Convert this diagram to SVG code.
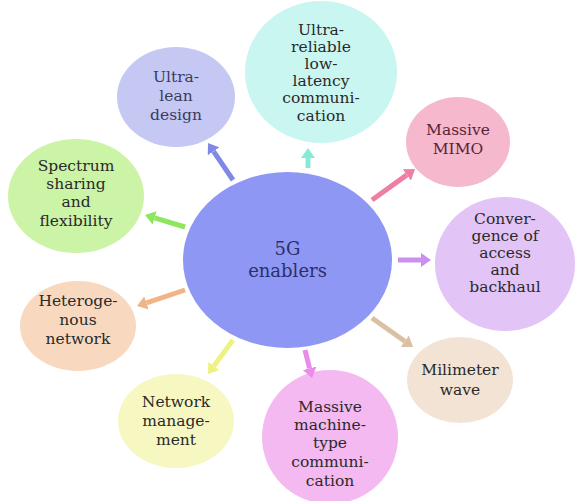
<svg xmlns="http://www.w3.org/2000/svg" width="577" height="501" viewBox="0 0 577 501">
  <style>
    text { font-family: "DejaVu Serif", "Liberation Serif", serif; font-size: 15.5px; text-anchor: middle; fill: #2a2a2a; }
    .hub text { font-size: 18px; fill: #2b2f6b; }
    .conn path { fill: none; stroke-width: 5; stroke-linecap: butt; }
  </style>
  <defs>
    <marker id="h-lean" markerUnits="userSpaceOnUse" viewBox="0 0 10 14" markerWidth="10" markerHeight="14" refX="0" refY="7" orient="auto"><path d="M0,0 L10,7 L0,14 z" fill="#8088e6"/></marker>
    <marker id="h-urllc" markerUnits="userSpaceOnUse" viewBox="0 0 10 14" markerWidth="10" markerHeight="14" refX="0" refY="7" orient="auto"><path d="M0,0 L10,7 L0,14 z" fill="#86ead8"/></marker>
    <marker id="h-mimo" markerUnits="userSpaceOnUse" viewBox="0 0 10 14" markerWidth="10" markerHeight="14" refX="0" refY="7" orient="auto"><path d="M0,0 L10,7 L0,14 z" fill="#ee7fa2"/></marker>
    <marker id="h-spec" markerUnits="userSpaceOnUse" viewBox="0 0 10 14" markerWidth="10" markerHeight="14" refX="0" refY="7" orient="auto"><path d="M0,0 L10,7 L0,14 z" fill="#8de65c"/></marker>
    <marker id="h-conv" markerUnits="userSpaceOnUse" viewBox="0 0 10 14" markerWidth="10" markerHeight="14" refX="0" refY="7" orient="auto"><path d="M0,0 L10,7 L0,14 z" fill="#cc8ef0"/></marker>
    <marker id="h-het" markerUnits="userSpaceOnUse" viewBox="0 0 10 14" markerWidth="10" markerHeight="14" refX="0" refY="7" orient="auto"><path d="M0,0 L10,7 L0,14 z" fill="#f0b486"/></marker>
    <marker id="h-mmw" markerUnits="userSpaceOnUse" viewBox="0 0 10 14" markerWidth="10" markerHeight="14" refX="0" refY="7" orient="auto"><path d="M0,0 L10,7 L0,14 z" fill="#dcc0a4"/></marker>
    <marker id="h-mmtc" markerUnits="userSpaceOnUse" viewBox="0 0 10 14" markerWidth="10" markerHeight="14" refX="0" refY="7" orient="auto"><path d="M0,0 L10,7 L0,14 z" fill="#e98ce8"/></marker>
    <marker id="h-mgmt" markerUnits="userSpaceOnUse" viewBox="0 0 10 14" markerWidth="10" markerHeight="14" refX="0" refY="7" orient="auto"><path d="M0,0 L10,7 L0,14 z" fill="#eef282"/></marker>
  </defs>

  <rect x="0" y="0" width="577" height="501" fill="#ffffff"/>

  <!-- surrounding enabler nodes -->
  <g id="ultra-lean">
    <ellipse cx="176" cy="97" rx="59" ry="50" fill="#c6c8f4"/>
    <text x="176" y="82" style="fill:#3a3c60">Ultra-</text>
    <text x="176" y="101" style="fill:#3a3c60">lean</text>
    <text x="176" y="120" style="fill:#3a3c60">design</text>
  </g>

  <g id="urllc">
    <ellipse cx="321" cy="72" rx="76" ry="71" fill="#c9f6f1"/>
    <text x="321" y="35">Ultra-</text>
    <text x="321" y="52">reliable</text>
    <text x="321" y="69">low-</text>
    <text x="321" y="86">latency</text>
    <text x="321" y="103">communi-</text>
    <text x="321" y="121">cation</text>
  </g>

  <g id="massive-mimo">
    <ellipse cx="458" cy="142" rx="52" ry="45" fill="#f6b8cd"/>
    <text x="458" y="135" style="fill:#5a2438">Massive</text>
    <text x="458" y="154" style="fill:#5a2438">MIMO</text>
  </g>

  <g id="convergence">
    <ellipse cx="505" cy="264" rx="70" ry="67" fill="#e2c4f6"/>
    <text x="505" y="224">Conver-</text>
    <text x="505" y="241">gence of</text>
    <text x="505" y="258">access</text>
    <text x="505" y="275">and</text>
    <text x="505" y="292">backhaul</text>
  </g>

  <g id="spectrum">
    <ellipse cx="76" cy="196" rx="68" ry="57" fill="#cbf4a6"/>
    <text x="76" y="171">Spectrum</text>
    <text x="76" y="189">sharing</text>
    <text x="76" y="207">and</text>
    <text x="76" y="226">flexibility</text>
  </g>

  <g id="heterogeneous">
    <ellipse cx="78" cy="326" rx="58" ry="45" fill="#f8d9bf"/>
    <text x="78" y="306">Heteroge-</text>
    <text x="78" y="325">nous</text>
    <text x="78" y="344">network</text>
  </g>

  <g id="network-management">
    <ellipse cx="176" cy="421" rx="58" ry="47" fill="#f7f7c2"/>
    <text x="176" y="407">Network</text>
    <text x="176" y="426">manage-</text>
    <text x="176" y="445">ment</text>
  </g>

  <g id="mmtc">
    <ellipse cx="330" cy="437" rx="68" ry="67" fill="#f4b9f0"/>
    <text x="330" y="412">Massive</text>
    <text x="330" y="430">machine-</text>
    <text x="330" y="448">type</text>
    <text x="330" y="467">communi-</text>
    <text x="330" y="486">cation</text>
  </g>

  <g id="millimeter-wave">
    <ellipse cx="460" cy="380" rx="53" ry="43" fill="#f2e3d5"/>
    <text x="460" y="375">Milimeter</text>
    <text x="460" y="395">wave</text>
  </g>

  <!-- arrows from the hub to each enabler -->
  <g id="connectors" class="conn">
    <path d="M233,180 L213.6,151.3" stroke="#8088e6" marker-end="url(#h-lean)"/>
    <path d="M308,168 L308,158" stroke="#86ead8" marker-end="url(#h-urllc)"/>
    <path d="M372,200 L406.9,174.9" stroke="#ee7fa2" marker-end="url(#h-mimo)"/>
    <path d="M185,227 L154.6,217.9" stroke="#8de65c" marker-end="url(#h-spec)"/>
    <path d="M398,260 L421,260" stroke="#cc8ef0" marker-end="url(#h-conv)"/>
    <path d="M185,290 L146.5,302.8" stroke="#f0b486" marker-end="url(#h-het)"/>
    <path d="M372,318 L404.8,341.2" stroke="#dcc0a4" marker-end="url(#h-mmw)"/>
    <path d="M305,350 L309.6,368.3" stroke="#e98ce8" marker-end="url(#h-mmtc)"/>
    <path d="M233,340 L213.9,365.9" stroke="#eef282" marker-end="url(#h-mgmt)"/>
  </g>

  <!-- central hub -->
  <g id="hub" class="hub">
    <ellipse cx="287.5" cy="260" rx="104.5" ry="88" fill="#8e97f3"/>
    <text x="287.5" y="255">5G</text>
    <text x="287.5" y="277">enablers</text>
  </g>
</svg>
